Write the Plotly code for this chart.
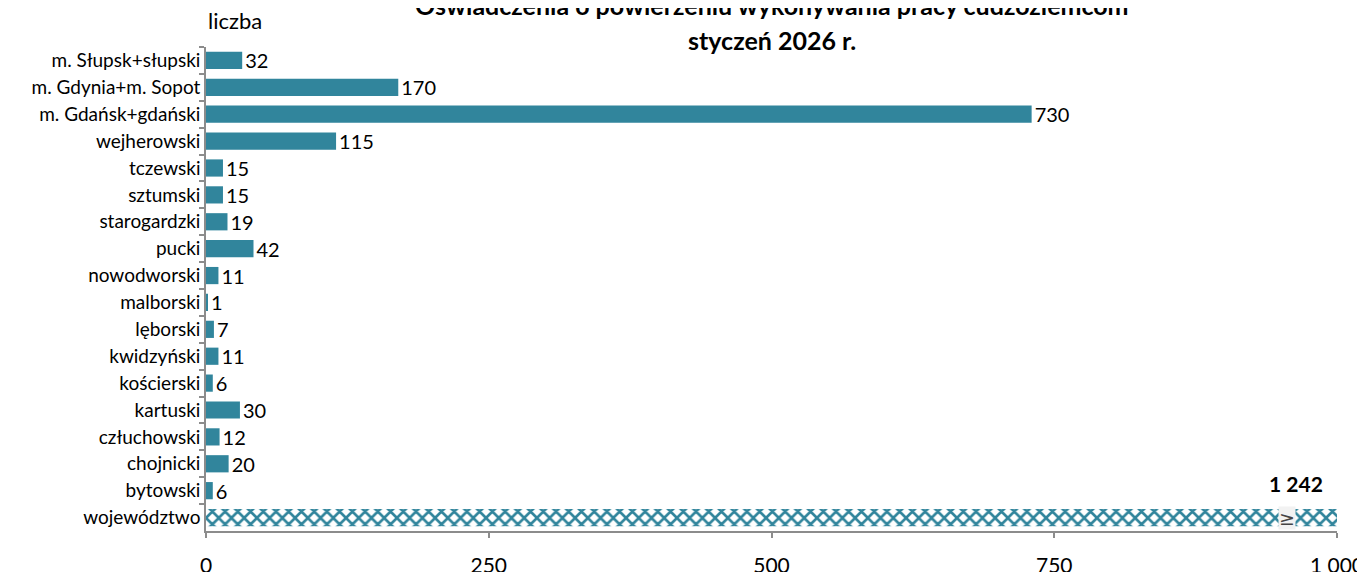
import plotly.graph_objects as go

categories = ["m. Słupsk+słupski", "m. Gdynia+m. Sopot", "m. Gdańsk+gdański", "wejherowski",
              "tczewski", "sztumski", "starogardzki", "pucki", "nowodworski", "malborski",
              "lęborski", "kwidzyński", "kościerski", "kartuski", "człuchowski", "chojnicki",
              "bytowski", "województwo"]
values = [32, 170, 730, 115, 15, 15, 19, 42, 11, 1, 7, 11, 6, 30, 12, 20, 6, 1242]
tick_vals = [0, 250, 500, 750, 1000]
tick_text = ["0", "250", "500", "750", "1 000"]
axis_max = 1000
title_1 = "Oświadczenia o powierzeniu wykonywania pracy cudzoziemcom"
title_2 = "styczeń 2026 r."
unit_label = "liczba"

TEAL = "#31859C"
FONT = "Lato"
n = len(categories)

fig = go.Figure()
# counties
fig.add_trace(go.Bar(
    y=categories[:-1], x=values[:-1], orientation="h",
    marker=dict(color=TEAL, line=dict(width=0)),
    text=[str(v) for v in values[:-1]], textposition="outside", cliponaxis=False,
    constraintext="none",
    textfont=dict(family=FONT, size=20, color="black"),
    hoverinfo="skip",
))
# voivodeship total (exceeds axis maximum)
fig.add_trace(go.Bar(
    y=categories[-1:], x=values[-1:], orientation="h",
    marker=dict(color="white", line=dict(width=0),
                pattern=dict(shape="x", fillmode="replace", fgcolor=TEAL, bgcolor="white",
                             fgopacity=1, size=9, solidity=0.5)),
    hoverinfo="skip",
))

# page body has an 8px margin, so the figure is offset by 8px from the window corner
fig.update_layout(
    width=1357, height=564,
    margin=dict(l=198, r=28, t=39, b=41, autoexpand=False),
    paper_bgcolor="white", plot_bgcolor="white",
    showlegend=False, bargap=0.36, barmode="overlay",
    font=dict(family=FONT, color="black"),
    xaxis=dict(range=[0, axis_max], tickvals=tick_vals, ticktext=tick_text, automargin=False,
               showgrid=False, zeroline=False, showline=True, linecolor="#8c8c8c", linewidth=1.5,
               ticks="outside", ticklen=5, tickcolor="#8c8c8c", tickwidth=1.5,
               tickfont=dict(family=FONT, size=21, color="black"), ticklabelstandoff=10),
    yaxis=dict(range=[n - 0.5, -0.5], automargin=False, showgrid=False, zeroline=False,
               categoryorder="array", categoryarray=categories,
               showline=True, linecolor="#8c8c8c", linewidth=1.5, ticks="outside", ticklen=5,
               tickcolor="#8c8c8c", tickwidth=1.5, tickson="boundaries",
               tickfont=dict(family=FONT, size=19, color="black")),
)

fig.add_annotation(x=0.5, y=1, xref="paper", yref="paper", yanchor="middle", yshift=42,
                   text="<b>" + title_1 + "</b>", showarrow=False,
                   font=dict(family=FONT, size=25, color="black"))
fig.add_annotation(x=0.5, y=1, xref="paper", yref="paper", yanchor="middle", yshift=7,
                   text="<b>" + title_2 + "</b>", showarrow=False,
                   font=dict(family=FONT, size=25, color="black"))
fig.add_annotation(x=0, y=1, xref="paper", yref="paper", yanchor="middle", yshift=27,
                   text=unit_label, showarrow=False,
                   font=dict(family=FONT, size=22, color="black"))
# total value label and axis break marker
fig.add_annotation(x=axis_max, y=categories[-1], xref="x", yref="y",
                   xanchor="right", yanchor="bottom", yshift=20, xshift=-12,
                   text="<b>" + f"{values[-1]:,}".replace(",", " ") + "</b>",
                   showarrow=False, font=dict(family=FONT, size=21, color="black"))
fig.add_annotation(x=axis_max * 0.956, y=categories[-1], xref="x", yref="y",
                   text="≥", showarrow=False, bgcolor="#f2f2f2",
                   font=dict(family="DejaVu Sans", size=19, color="#444"), borderpad=0)

fig.write_html("out.html")
